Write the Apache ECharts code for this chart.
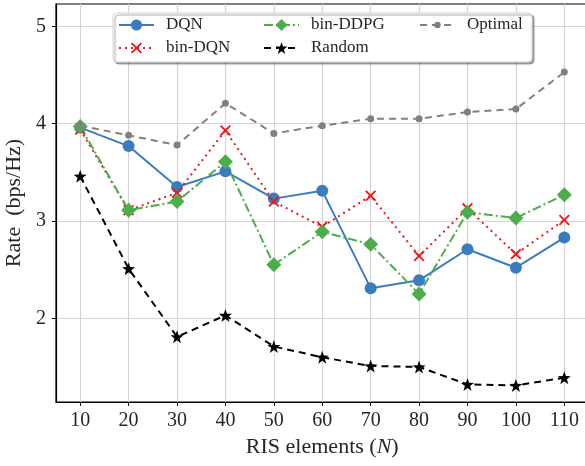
<!DOCTYPE html>
<html>
<head>
<meta charset="utf-8">
<script src="https://cdn.jsdelivr.net/npm/echarts@6/dist/echarts.min.js"></script>
<style>
  html, body { margin: 0; padding: 0; background: #fff; }
  #chart { width: 585px; height: 466px; }
</style>
</head>
<body>
<div id="chart"></div>
<script>
// ---- data ----
var risElements = [10, 20, 30, 40, 50, 60, 70, 80, 90, 100, 110];
var yTicks      = [2, 3, 4, 5];

var dqn     = [3.96, 3.77, 3.35, 3.51, 3.23, 3.31, 2.31, 2.39, 2.71, 2.52, 2.83];
var binDqn  = [3.94, 3.11, 3.29, 3.93, 3.20, 2.94, 3.26, 2.64, 3.13, 2.66, 3.01];
var binDdpg = [3.97, 3.11, 3.20, 3.61, 2.55, 2.89, 2.76, 2.25, 3.09, 3.03, 3.27];
var randomR = [3.46, 2.51, 1.81, 2.03, 1.71, 1.60, 1.51, 1.50, 1.32, 1.31, 1.39];
var optimal = [3.98, 3.88, 3.78, 4.21, 3.90, 3.98, 4.05, 4.05, 4.12, 4.15, 4.53];

// ---- marker shapes ----
var CROSS = "path://M0,1.2L1.2,0L5,3.8L8.8,0L10,1.2L6.2,5L10,8.8L8.8,10L5,6.2L1.2,10L0,8.8L3.8,5Z";
var STAR  = "path://M10,0L12.35,6.76L19.51,6.91L13.8,11.24L15.88,18.09L10,14L4.12,18.09L6.2,11.24L0.49,6.91L7.65,6.76Z";

var SERIF = "'Liberation Serif', 'DejaVu Serif', serif";
var TXT   = "#262626";

function pairs(ys) {
  return risElements.map(function(x, i) { return [x, ys[i]]; });
}

function lineSeries(name, ys, color, type, symbol, size) {
  return {
    name: name,
    type: "line",
    data: pairs(ys),
    symbol: symbol,
    symbolSize: size,
    showSymbol: true,
    animation: false,
    itemStyle: { color: color },
    lineStyle: { color: color, width: 2, type: type },
    z: 2
  };
}

var chart = echarts.init(document.getElementById("chart"), null, { renderer: "canvas" });

// legend symbol size is itemHeight*0.8, so each column gets its own height
function legendAt(left, names, itemH) {
  return {
    orient: "vertical",
    left: left, top: 15,
    data: names,
    itemWidth: 35, itemHeight: itemH,
    itemGap: 3,
    padding: 0,
    z: 6,
    textStyle: { fontFamily: SERIF, fontSize: 17, lineHeight: 20, color: TXT, padding: [0, 0, 0, 7] }
  };
}

chart.setOption({
  animation: false,
  graphic: [{
    type: "rect",
    z: 5,
    shape: { x: 113, y: 13, width: 419, height: 49, r: 4 },
    style: {
      fill: "#fff", stroke: "#cfcfcf", lineWidth: 1,
      shadowColor: "rgba(0,0,0,0.35)", shadowOffsetX: 2, shadowOffsetY: 2, shadowBlur: 1
    }
  }],
  legend: [
    legendAt(118, ["DQN", "bin-DQN"], 14),
    legendAt(263, ["bin-DDPG", "Random"], 15),
    legendAt(419, ["Optimal"], 8)
  ],
  // the right spine sits just past the canvas edge in the reference
  grid: {
    left: 56, top: 4, right: -3.5, bottom: 64,
    outerBoundsMode: "none", containLabel: false,
    show: true, borderColor: "#000", borderWidth: 1.2
  },
  xAxis: {
    type: "value",
    min: 5, max: 115,
    name: "{a|RIS elements (}{i|N}{a|)}",
    nameLocation: "middle",
    nameGap: 30,
    nameTextStyle: {
      rich: {
        a: { fontFamily: SERIF, fontSize: 22, color: TXT },
        i: { fontFamily: SERIF, fontSize: 22, color: TXT, fontStyle: "italic" }
      }
    },
    axisLine: { show: true, onZero: false, lineStyle: { color: "#000", width: 1.2 } },
    axisTick: { show: true, length: 4, lineStyle: { color: "#000" }, customValues: risElements },
    axisLabel: { fontFamily: SERIF, fontSize: 20, color: TXT, margin: 9, customValues: risElements },
    splitLine: { show: true, lineStyle: { color: "#d4d4d4", width: 1.2 } }
  },
  yAxis: {
    type: "value",
    min: 1.14, max: 5.23,
    name: "Rate  (bps/Hz)",
    nameLocation: "middle",
    nameGap: 27,
    nameTextStyle: { fontFamily: SERIF, fontSize: 22, color: TXT },
    axisLine: { show: true, onZero: false, lineStyle: { color: "#000", width: 1.2 } },
    axisTick: { show: true, length: 4, lineStyle: { color: "#000" }, customValues: yTicks },
    axisLabel: { fontFamily: SERIF, fontSize: 20, color: TXT, margin: 10, customValues: yTicks },
    splitLine: { show: true, lineStyle: { color: "#d4d4d4", width: 1.2 } }
  },
  series: [
    lineSeries("DQN", dqn, "#3a7dbf", "solid", "circle", 12),
    lineSeries("bin-DQN", binDqn, "#e8191c", [2, 4], CROSS, 11),
    lineSeries("bin-DDPG", binDdpg, "#4cae4a", [9, 3, 2, 3], "diamond", 15),
    lineSeries("Random", randomR, "#000000", [7, 5], STAR, 13),
    lineSeries("Optimal", optimal, "#808080", [7, 5], "circle", 7)
  ]
});
</script>
</body>
</html>
